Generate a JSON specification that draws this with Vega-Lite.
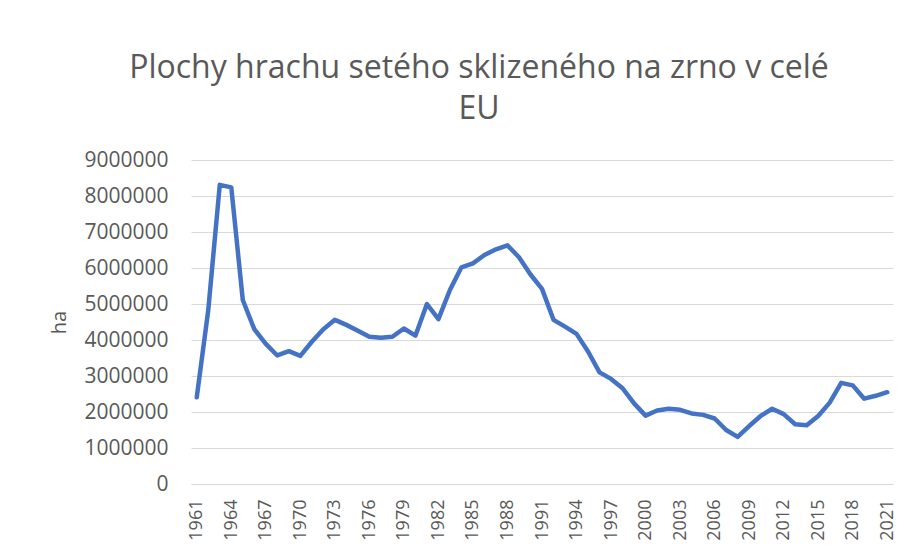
{
  "$schema": "https://vega.github.io/schema/vega-lite/v6.json",
  "autosize": {"type": "none"},
  "width": 702,
  "height": 324,
  "padding": {"left": 191, "top": 160, "right": 17, "bottom": 72},
  "background": "white",
  "title": {
    "text": ["Plochy hrachu setého sklizeného na zrno v celé", "EU"],
    "anchor": "middle",
    "frame": "group",
    "dx": -63,
    "fontSize": 32,
    "font": "Open Sans",
    "fontWeight": "normal",
    "color": "#595959",
    "lineHeight": 41,
    "offset": 23
  },
  "data": {
    "values": [
      {"year": 1961, "ha": 2410000},
      {"year": 1962, "ha": 4830000},
      {"year": 1963, "ha": 8310000},
      {"year": 1964, "ha": 8240000},
      {"year": 1965, "ha": 5110000},
      {"year": 1966, "ha": 4300000},
      {"year": 1967, "ha": 3890000},
      {"year": 1968, "ha": 3570000},
      {"year": 1969, "ha": 3690000},
      {"year": 1970, "ha": 3560000},
      {"year": 1971, "ha": 3950000},
      {"year": 1972, "ha": 4300000},
      {"year": 1973, "ha": 4560000},
      {"year": 1974, "ha": 4420000},
      {"year": 1975, "ha": 4260000},
      {"year": 1976, "ha": 4090000},
      {"year": 1977, "ha": 4060000},
      {"year": 1978, "ha": 4090000},
      {"year": 1979, "ha": 4320000},
      {"year": 1980, "ha": 4120000},
      {"year": 1981, "ha": 5000000},
      {"year": 1982, "ha": 4580000},
      {"year": 1983, "ha": 5390000},
      {"year": 1984, "ha": 6020000},
      {"year": 1985, "ha": 6130000},
      {"year": 1986, "ha": 6360000},
      {"year": 1987, "ha": 6520000},
      {"year": 1988, "ha": 6630000},
      {"year": 1989, "ha": 6300000},
      {"year": 1990, "ha": 5820000},
      {"year": 1991, "ha": 5420000},
      {"year": 1992, "ha": 4560000},
      {"year": 1993, "ha": 4370000},
      {"year": 1994, "ha": 4170000},
      {"year": 1995, "ha": 3680000},
      {"year": 1996, "ha": 3100000},
      {"year": 1997, "ha": 2920000},
      {"year": 1998, "ha": 2660000},
      {"year": 1999, "ha": 2240000},
      {"year": 2000, "ha": 1900000},
      {"year": 2001, "ha": 2040000},
      {"year": 2002, "ha": 2090000},
      {"year": 2003, "ha": 2060000},
      {"year": 2004, "ha": 1960000},
      {"year": 2005, "ha": 1920000},
      {"year": 2006, "ha": 1820000},
      {"year": 2007, "ha": 1500000},
      {"year": 2008, "ha": 1310000},
      {"year": 2009, "ha": 1610000},
      {"year": 2010, "ha": 1890000},
      {"year": 2011, "ha": 2090000},
      {"year": 2012, "ha": 1940000},
      {"year": 2013, "ha": 1660000},
      {"year": 2014, "ha": 1630000},
      {"year": 2015, "ha": 1890000},
      {"year": 2016, "ha": 2260000},
      {"year": 2017, "ha": 2810000},
      {"year": 2018, "ha": 2740000},
      {"year": 2019, "ha": 2370000},
      {"year": 2020, "ha": 2450000},
      {"year": 2021, "ha": 2550000}
    ]
  },
  "mark": {"type": "line", "color": "#4472c4", "strokeWidth": 4.5, "strokeJoin": "round", "strokeCap": "round"},
  "encoding": {
    "x": {
      "field": "year",
      "type": "ordinal",
      "scale": {"type": "point", "padding": 0.5},
      "axis": {
        "title": null,
        "values": [1961, 1964, 1967, 1970, 1973, 1976, 1979, 1982, 1985, 1988, 1991, 1994, 1997, 2000, 2003, 2006, 2009, 2012, 2015, 2018, 2021],
        "labelAngle": -90,
        "labelAlign": "right",
        "labelBaseline": "middle",
        "labelPadding": 15,
        "ticks": false,
        "tickSize": 0,
        "domain": true,
        "domainColor": "#d9d9d9",
        "domainWidth": 1,
        "grid": false,
        "labelFont": "Open Sans",
        "labelFontSize": 18,
        "labelColor": "#595959"
      }
    },
    "y": {
      "field": "ha",
      "type": "quantitative",
      "scale": {"domain": [0, 9000000], "nice": false},
      "axis": {
        "title": "ha",
        "titleFont": "Open Sans",
        "titleFontSize": 20,
        "titleFontWeight": "normal",
        "titleColor": "#595959",
        "titlePadding": 14,
        "values": [0, 1000000, 2000000, 3000000, 4000000, 5000000, 6000000, 7000000, 8000000, 9000000],
        "format": "d",
        "labelFont": "Open Sans",
        "labelFontSize": 21,
        "labelColor": "#595959",
        "labelPadding": 23,
        "ticks": false,
        "tickSize": 0,
        "domain": false,
        "grid": true,
        "gridColor": "#d9d9d9",
        "gridWidth": 1
      }
    }
  },
  "config": {"view": {"stroke": null}}
}
